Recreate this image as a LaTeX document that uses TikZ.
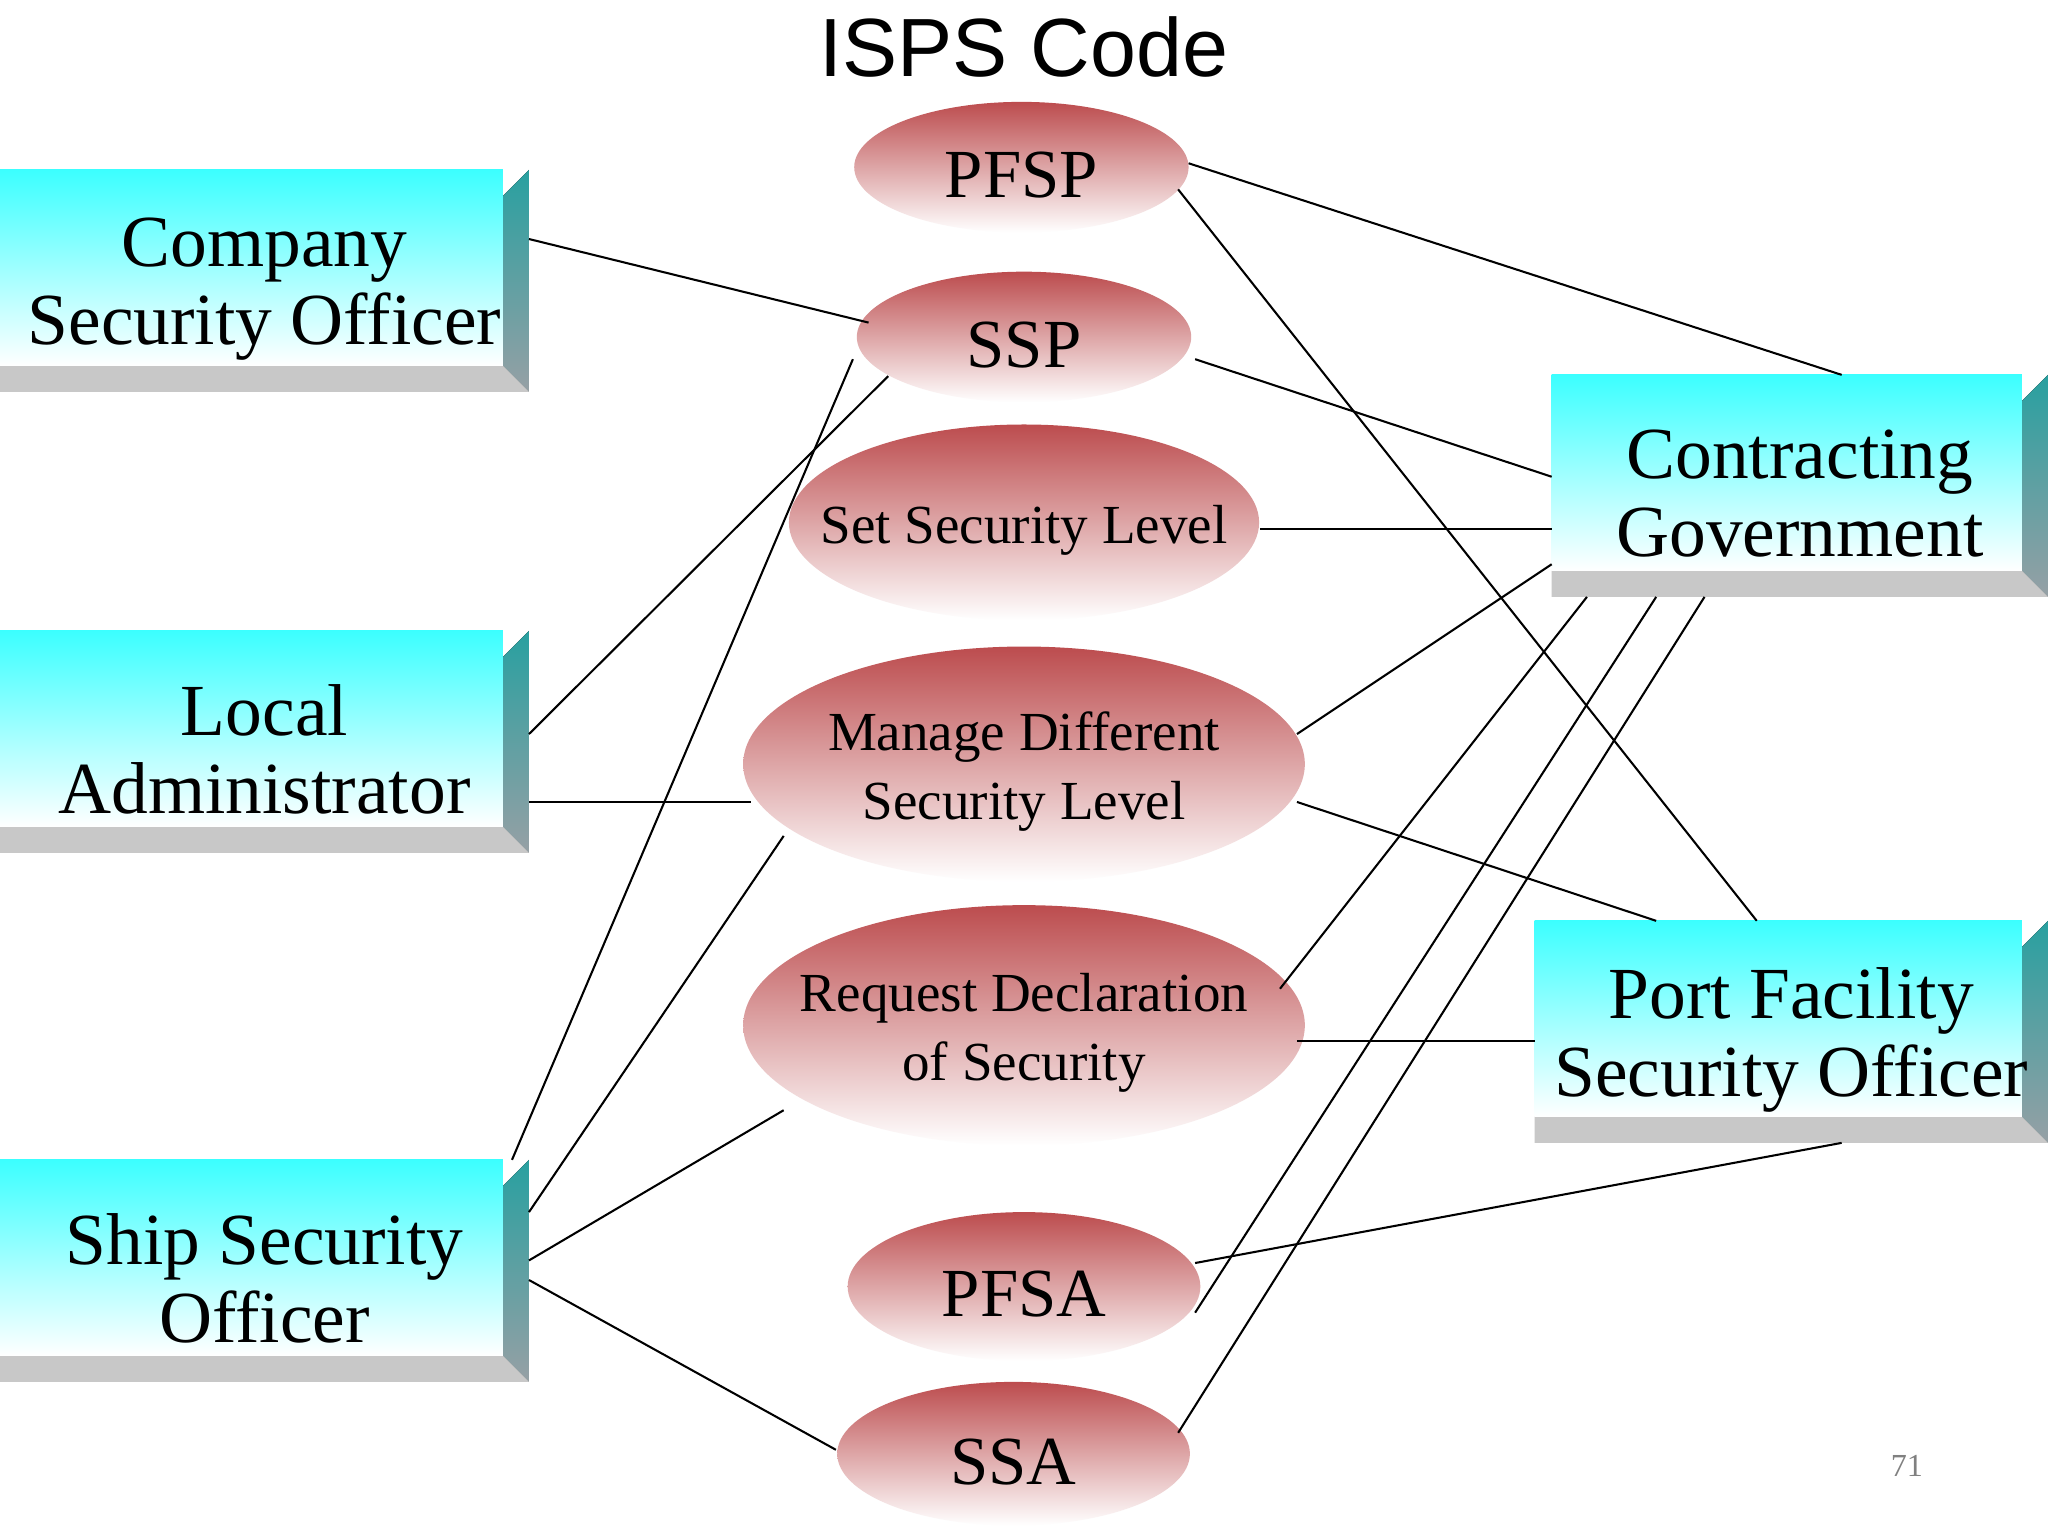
\documentclass[tikz,border=0pt]{standalone}
\usepackage{fontspec}
\setmainfont{Liberation Serif}
\newfontfamily\arialf{Liberation Sans}
\usetikzlibrary{shapes.geometric,calc}
\definecolor{cyn}{RGB}{60,255,255}
\definecolor{redd}{RGB}{188,76,78}
\definecolor{tealb}{RGB}{40,160,160}
\definecolor{grayb}{RGB}{150,160,165}
\definecolor{bevg}{RGB}{200,200,200}
\tikzset{
 face/.style={rectangle,inner sep=0pt,top color=cyn,bottom color=white},
 ftext/.style={align=center,inner sep=0pt,font=\fontsize{32}{34}\selectfont},
 bevR/.style={top color=tealb,bottom color=grayb},
 bevB/.style={fill=bevg},
 ell/.style={ellipse,inner sep=0pt,top color=redd,bottom color=white},
 etext/.style={align=center,inner sep=0pt},
 con/.style={draw=black,line width=0.9pt}
}
\newcommand\mybox[6]{%
 \fill[bevR] (#4-20,#3+20) -- (#4,#3) -- (#4,#5) -- (#4-20,#5-20) -- cycle;
 \fill[bevB] (#2,#5-20) -- (#4-20,#5-20) -- (#4,#5) -- (#2,#5) -- cycle;
 \node[face,minimum width={(#4-#2-20)*0.02cm},minimum height={(#5-#3-20)*0.02cm}] (#1) at ({(#2+#4-20)/2},{(#3+#5-20)/2}) {};
 \node[ftext] (#1t) at ($(#1.center)+(10,16)$) {#6};}
\newcommand\myell[7]{%
 \node[ell,minimum width={2*#4*0.02cm},minimum height={2*#5*0.02cm}] (#1) at (#2,#3) {};
 \node[etext,font=\fontsize{#6}{30}\selectfont] (#1t) at ($(#1.center)+(0,6)$) {#7};}
\begin{document}
\begin{tikzpicture}[x=0.02cm,y=-0.02cm]
\useasboundingbox (0,0) rectangle (1568,1176);
\fill[white] (0,0) rectangle (1568,1176);
\node[font=\arialf\fontsize{36}{40}\selectfont] (title) at (784,36) {ISPS Code};
\node[text=gray,font=\fontsize{14}{16}\selectfont] (pg) at (1460,1122) {71};
\mybox{cso}{0}{130}{405}{300}{Company\\Security Officer}
\mybox{la}{0}{483}{405}{653}{Local\\Administrator}
\mybox{sso}{0}{888}{405}{1058}{Ship Security\\Officer}
\mybox{cg}{1188}{287}{1568}{457}{Contracting\\Government}
\mybox{pfso}{1175}{705}{1568}{875}{Port Facility\\Security Officer}
\myell{pfsp}{782}{128}{128}{50}{30}{PFSP}
\myell{ssp}{784}{258}{128}{50}{30}{SSP}
\myell{ssl}{784}{400}{180}{75}{24}{Set Security Level}
\myell{mds}{784}{585}{215}{90}{24}{Manage Different\\Security Level}
\myell{rds}{784}{785}{215}{92}{24}{Request Declaration\\of Security}
\myell{pfsa}{784}{985}{135}{57}{30}{PFSA}
\myell{ssa}{776}{1113}{135}{55}{30}{SSA}
\draw[con] ($(cso.center)+(212.5,-22)$) -- ($(ssp.center)+(-119,-11)$);
\draw[con] ($(pfsp.center)+(128,-3)$) -- ($(cg.center)+(42,-75)$);
\draw[con] ($(pfsp.center)+(120,17)$) -- ($(pfso.center)+(-16.5,-75)$);
\draw[con] ($(ssp.center)+(131,17)$) -- ($(cg.center)+(-180,3)$);
\draw[con] ($(ssl.center)+(181,5)$) -- ($(cg.center)+(-180,43)$);
\draw[con] ($(la.center)+(212.5,4)$) -- ($(ssp.center)+(-104,30)$);
\draw[con] ($(la.center)+(212.5,56)$) -- ($(mds.center)+(-209,29)$);
\draw[con] ($(sso.center)+(199.5,-75)$) -- ($(ssp.center)+(-131,17)$);
\draw[con] ($(sso.center)+(212.5,-35)$) -- ($(mds.center)+(-184,55)$);
\draw[con] ($(sso.center)+(212.5,2)$) -- ($(rds.center)+(-184,65)$);
\draw[con] ($(sso.center)+(212.5,17)$) -- ($(ssa.center)+(-136,-3)$);
\draw[con] ($(mds.center)+(209,-23)$) -- ($(cg.center)+(-180,70)$);
\draw[con] ($(mds.center)+(209,29)$) -- ($(pfso.center)+(-93.5,-75)$);
\draw[con] ($(rds.center)+(196,-28)$) -- ($(cg.center)+(-153,95)$);
\draw[con] ($(rds.center)+(209,12)$) -- ($(pfso.center)+(-186.5,17)$);
\draw[con] ($(pfsa.center)+(131,20)$) -- ($(cg.center)+(-100,95)$);
\draw[con] ($(pfsa.center)+(131,-18)$) -- ($(pfso.center)+(48.5,95)$);
\draw[con] ($(ssa.center)+(126,-16)$) -- ($(cg.center)+(-63,95)$);
\end{tikzpicture}
\end{document}
